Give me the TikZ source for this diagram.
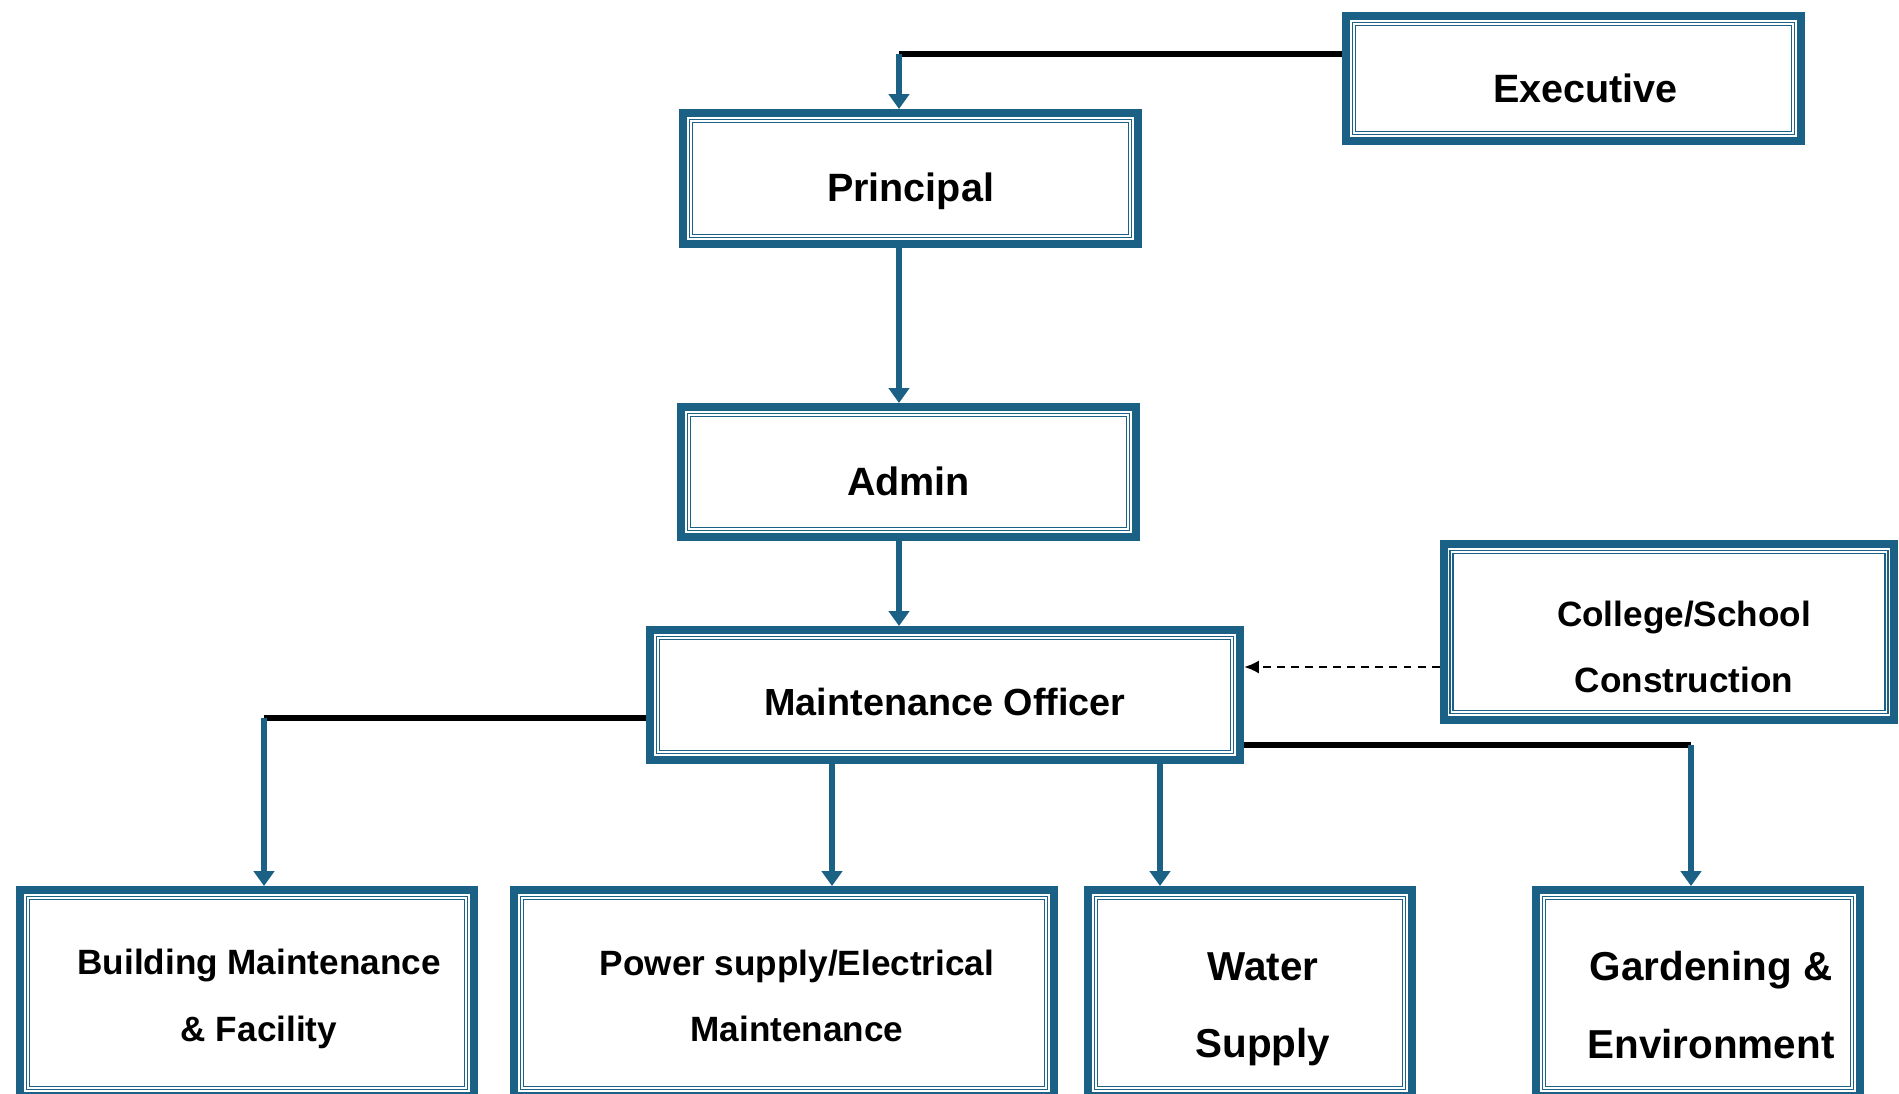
\documentclass[tikz,border=0pt]{standalone}
\usepackage{fontspec}
\setmainfont{Liberation Sans}
\usepackage{xcolor}
\usetikzlibrary{positioning}
\usetikzlibrary{arrows.meta}
\definecolor{boxblue}{RGB}{26,97,133}
\tikzset{edge/.style = {->,> = {Triangle[width=11.5pt,length=8.5pt]}}}

\begin{document}
\begin{tikzpicture}[x=0.02cm,y=-0.02cm,
  main node/.style={rectangle,draw=boxblue,fill=white,line width=4.55pt,outer sep=2.275pt,inner sep=0pt},
  top text/.style={align=center,font=\bfseries\fontsize{22.5}{38}\selectfont},
  sub text/.style={align=center,font=\bfseries\fontsize{20}{38}\selectfont},
  big text/.style={align=center,font=\bfseries\fontsize{23}{44}\selectfont},
  inner frame/.style={draw=boxblue,line width=0.8pt,double=white,double distance=1pt},
  link/.style={line width=3.6pt,black},
  blue edge/.style={edge,line width=3.6pt,boxblue},
  dash edge/.style={->,>={Latex[length=8.5pt,width=7.5pt]},black,line width=1.5pt,dash pattern=on 4.5pt off 3.5pt}]
\clip (0,0) rectangle (1899,1094);

% boxes
\node[main node,minimum width=9.1cm,minimum height=2.5cm,
  label={[top text,shift={(12,10)}]center:Executive}] (exec) at (1573.5,78.5) {};
\node[main node,minimum width=9.1cm,minimum height=2.62cm,
  label={[top text,shift={(0,13)}]center:Principal}] (principal) at (910.5,178.5) {};
\node[main node,minimum width=9.1cm,minimum height=2.6cm,
  label={[top text,shift={(0,9)}]center:Admin}] (admin) at (908.5,472) {};
\node[main node,minimum width=11.8cm,minimum height=2.6cm,
  label={[top text,font=\bfseries\fontsize{21.5}{38}\selectfont,shift={(0,7)}]center:Maintenance Officer}] (mo) at (945,695) {};
\node[main node,minimum width=9.02cm,minimum height=3.52cm,
  label={[sub text,shift={(15,15)}]center:College/School\\Construction}] (csc) at (1669,632) {};
\node[main node,minimum width=9.08cm,minimum height=4.12cm,
  label={[sub text,shift={(12,6)}]center:Building Maintenance\\\& Facility}] (bm) at (247,993) {};
\node[main node,minimum width=10.8cm,minimum height=4.12cm,
  label={[sub text,shift={(13,3)}]center:Power supply/Electrical\\Maintenance}] (ps) at (784,993) {};
\node[main node,minimum width=6.48cm,minimum height=4.12cm,
  label={[big text,shift={(13,16)}]center:Water\\Supply}] (ws) at (1250,993) {};
\node[main node,minimum width=6.48cm,minimum height=4.12cm,
  label={[big text,shift={(13,12)}]center:Gardening \&\\Environment}] (ge) at (1698,993) {};

\foreach \n in {exec,principal,admin,mo,csc,bm,ps,ws,ge}
  \draw[inner frame] ([shift={(12,12)}]\n.north west) rectangle ([shift={(-12,-12)}]\n.south east);

% joints
\coordinate (pj) at (899,54);
\coordinate (bmj) at (264,718);
\coordinate (gej) at (1691,745);
\coordinate (psj) at (832,0);
\coordinate (wsj) at (1160,0);

% connectors
\draw[link] (exec.west |- pj) -- (pj);
\draw[blue edge] (pj) -- (pj |- principal.north);
\draw[blue edge] (principal.south -| pj) -- (admin.north -| pj);
\draw[blue edge] (admin.south -| pj) -- (mo.north -| pj);
\draw[dash edge] ([yshift=-0.7cm]csc.west) -- ([yshift=-0.7cm]csc.west -| mo.east);
\draw[link] (mo.west |- bmj) -- (bmj);
\draw[blue edge] (bmj) -- (bmj |- bm.north);
\draw[blue edge] (mo.south -| psj) -- (ps.north -| psj);
\draw[blue edge] (mo.south -| wsj) -- (ws.north -| wsj);
\draw[link] (mo.east |- gej) -- (gej);
\draw[blue edge] (gej) -- (gej |- ge.north);
\end{tikzpicture}
\end{document}
